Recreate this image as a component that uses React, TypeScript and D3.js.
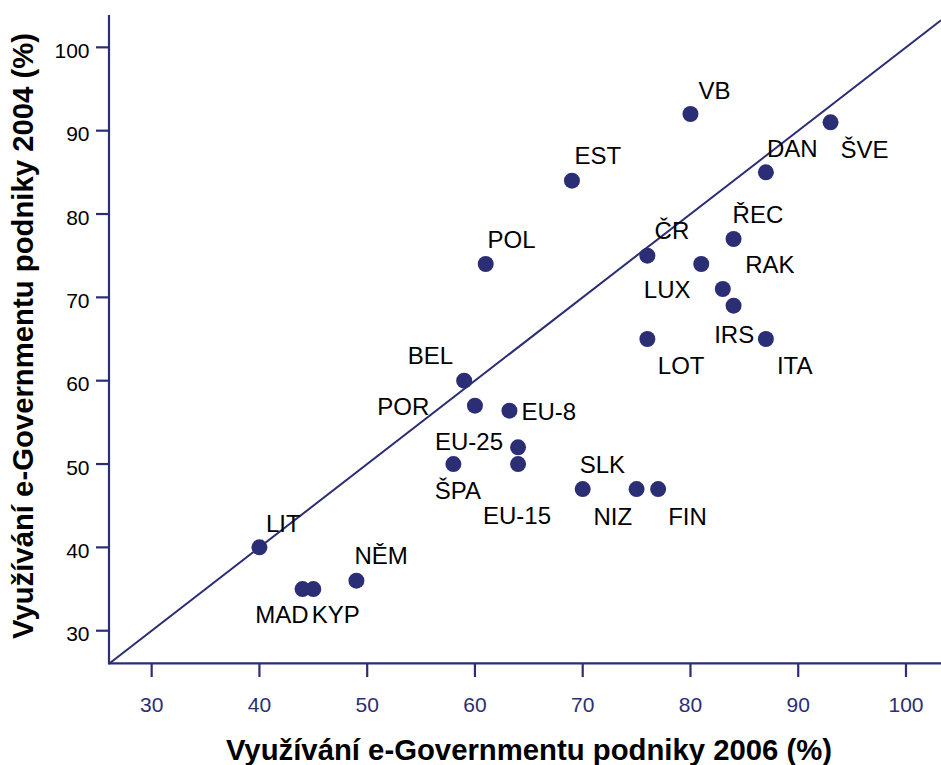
import React from "react";
import * as d3 from "d3";

const countries = ["VB","ŠVE","DAN","EST","POL","ŘEC","ČR","RAK","LUX","IRS","ITA","LOT","BEL","POR","EU-8","EU-25","EU-15","ŠPA","SLK","NIZ","FIN","LIT","NĚM","MAD","KYP"];
const use2006 = [80,93,87,69,61,84,76,83,81,84,87,76,59,60,63.2,64,64,58,70,75,77,40,49,44,45];
const use2004 = [92,91,85,84,74,77,75,71,74,69,65,65,60,57,56.4,52,50,50,47,47,47,40,36,35,35];
const xTicks = [30,40,50,60,70,80,90,100];
const yTicks = [30,40,50,60,70,80,90,100];
const xTitle = "Využívání e-Governmentu podniky 2006 (%)";
const yTitle = "Využívání e-Governmentu podniky 2004 (%)";

// label placement (layout only): [dx, dy, anchor]
const labelLayout: Record<string, [number, number, string]> = {
  "VB": [8, -15, "start"],
  "ŠVE": [10, 35.6, "start"],
  "DAN": [1, -15.7, "start"],
  "EST": [2.6, -16.4, "start"],
  "POL": [1.8, -15.7, "start"],
  "ŘEC": [-1, -16.3, "start"],
  "ČR": [7.2, -16.4, "start"],
  "RAK": [22.4, -16.3, "start"],
  "LUX": [-10.7, 33.7, "end"],
  "IRS": [0.6, 37, "middle"],
  "ITA": [11, 34.8, "start"],
  "LOT": [10.5, 34.8, "start"],
  "BEL": [-11, -16.6, "end"],
  "POR": [-45.6, 9, "end"],
  "EU-8": [12, 9.3, "start"],
  "EU-25": [-15, 2.6, "end"],
  "EU-15": [-1, 60, "middle"],
  "ŠPA": [4.6, 35, "middle"],
  "SLK": [-3, -15.7, "start"],
  "NIZ": [-4.5, 35.5, "end"],
  "FIN": [10, 35.5, "start"],
  "LIT": [6.5, -15.7, "start"],
  "NĚM": [-2, -16.7, "start"],
  "MAD": [6, 34.3, "end"],
  "KYP": [-1.5, 34.3, "start"],
};

const NAVY = "#2b2e74";
const FONT = "'Liberation Sans', Arial, sans-serif";

export default function App() {
  const W = 941, H = 765;
  const x = d3.scaleLinear().domain([26.04, 103.25]).range([109, 941]);
  const y = d3.scaleLinear().domain([26.09, 103.88]).range([663.3, 15]);
  const [x0, x1] = x.domain();
  const lineGen = d3.line<number>().x(v => x(v)).y(v => y(v));
  const diag = lineGen([Math.max(x0, y.domain()[0]), x1]);

  return (
    <svg width={W} height={H} style={{ position: "absolute", left: 0, top: 0, background: "#fff" }} fontFamily={FONT}>
      <defs>
        <clipPath id="plot">
          <rect x={109} y={15} width={832} height={648.3} />
        </clipPath>
      </defs>
      <path d={diag || ""} stroke={NAVY} strokeWidth={2} fill="none" clipPath="url(#plot)" />
      {/* axes */}
      <line x1={x.range()[0]} x2={x.range()[1]} y1={663.3} y2={663.3} stroke={NAVY} strokeWidth={2.2} />
      <line x1={109} x2={109} y1={y.range()[1]} y2={664.4} stroke={NAVY} strokeWidth={2.2} />
      {xTicks.map(t => (
        <g key={"x" + t}>
          <line x1={x(t)} x2={x(t)} y1={663.3} y2={677} stroke={NAVY} strokeWidth={2.2} />
          <text x={x(t)} y={712} textAnchor="middle" fontSize={21} fill={NAVY}>{t}</text>
        </g>
      ))}
      {yTicks.map(t => (
        <g key={"y" + t}>
          <line x1={96} x2={109} y1={y(t)} y2={y(t)} stroke={NAVY} strokeWidth={2.2} />
          <text x={89.5} y={y(t) + 10.7} textAnchor="end" fontSize={21} fill="#000">{t}</text>
        </g>
      ))}
      {/* points */}
      {countries.map((c, i) => (
        <circle key={"p" + c} cx={x(use2006[i])} cy={y(use2004[i])} r={8} fill={NAVY} />
      ))}
      {countries.map((c, i) => {
        const [dx, dy, anchor] = labelLayout[c] || [8, -15, "start"];
        return (
          <text key={"l" + c} x={x(use2006[i]) + dx} y={y(use2004[i]) + dy} textAnchor={anchor as any} fontSize={24} fill="#000">{c}</text>
        );
      })}
      {/* titles */}
      <text x={529} y={760} textAnchor="middle" fontSize={29.3} fontWeight="bold" fill="#000">{xTitle}</text>
      <text transform={`translate(33,336) rotate(-90)`} textAnchor="middle" fontSize={29.3} fontWeight="bold" fill="#000">{yTitle}</text>
    </svg>
  );
}
